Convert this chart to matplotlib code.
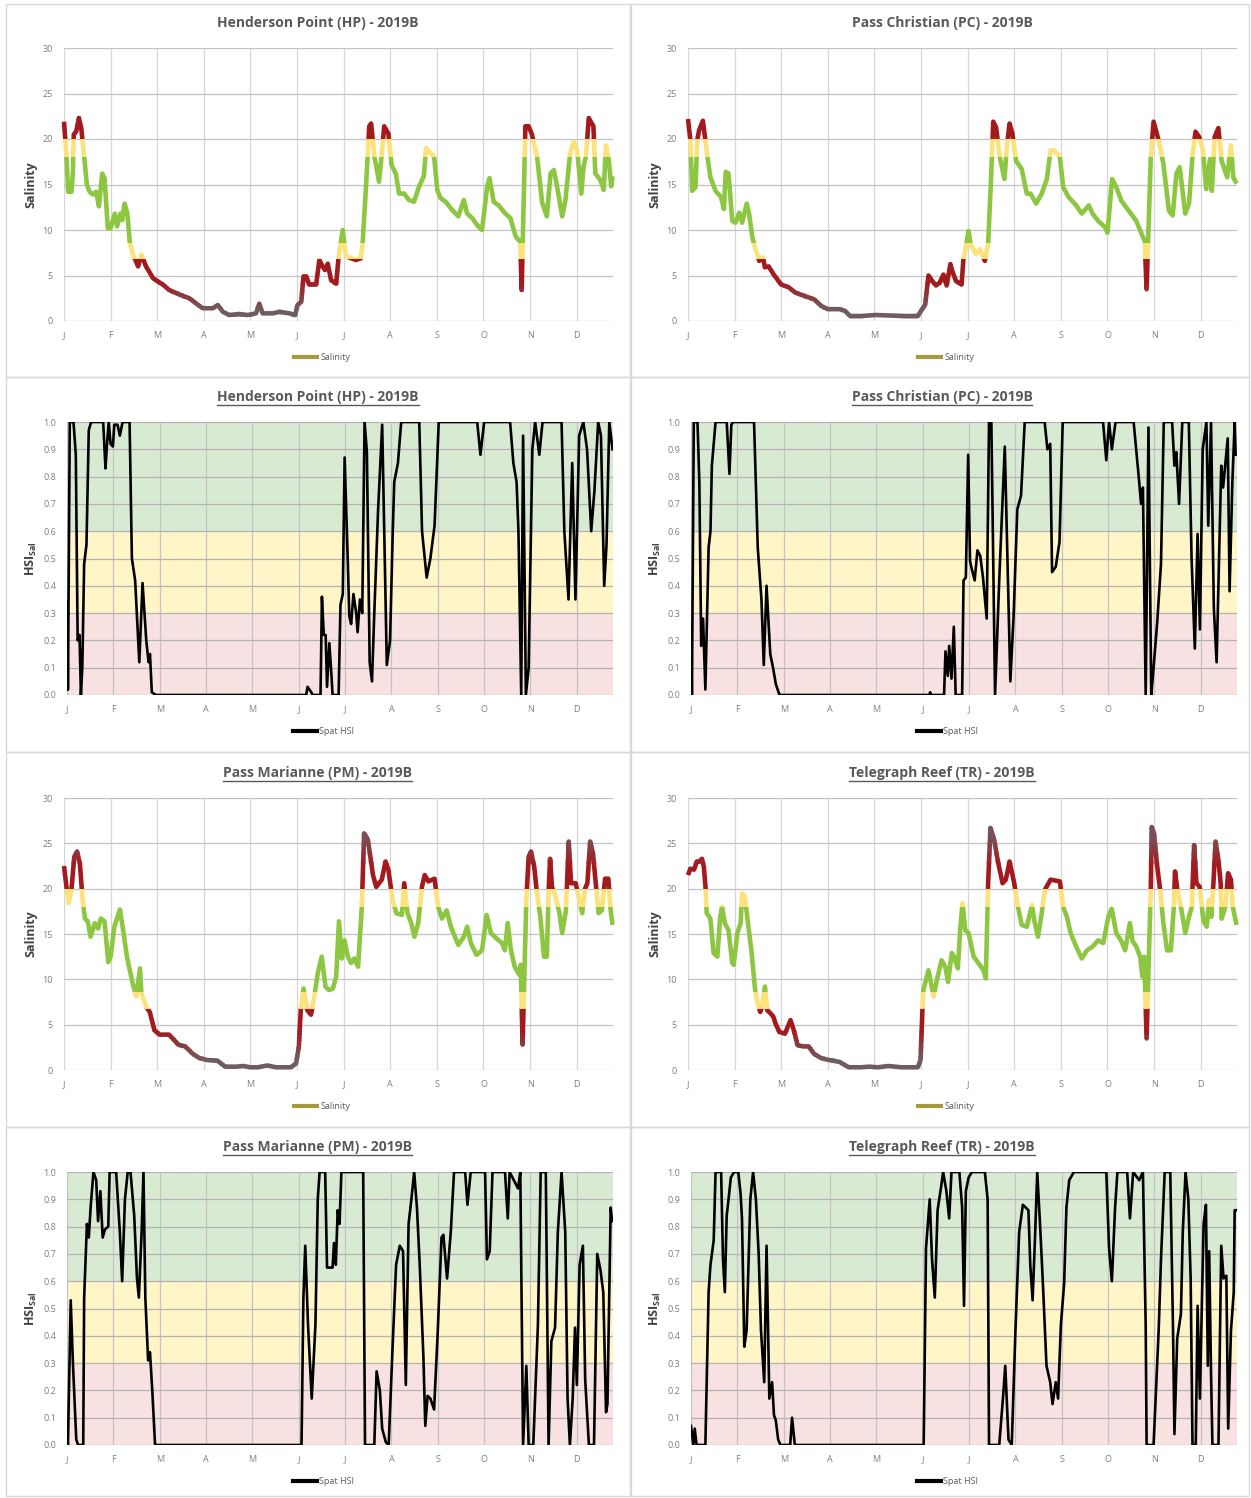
import matplotlib
matplotlib.use('Agg')
import matplotlib.pyplot as plt
import numpy as np
from matplotlib.lines import Line2D
from matplotlib.patches import Rectangle
from matplotlib.colors import to_rgb

plt.rcParams['font.family'] = ['Open Sans', 'DejaVu Sans']
plt.rcParams['mathtext.default'] = 'regular'

# axis labels / ticks
month_labels = ['J', 'F', 'M', 'A', 'M', 'J', 'J', 'A', 'S', 'O', 'N', 'D']
sal_ticks = [0, 5, 10, 15, 20, 25, 30]
hsi_ticks = [0.0, 0.1, 0.2, 0.3, 0.4, 0.5, 0.6, 0.7, 0.8, 0.9, 1.0]

# (month position, value), Jan = 0
hp_sal = [(0, 21.9), (0.05, 18.4), (0.09, 14.2), (0.16, 14.2), (0.19, 16.2), (0.21, 20.5), (0.26, 20.8),
          (0.32, 22.3), (0.37, 21.2), (0.44, 17.7), (0.49, 15.0), (0.55, 14.2), (0.62, 13.9), (0.69, 14.2),
          (0.75, 12.6), (0.82, 16.2), (0.87, 15.7), (0.94, 10.2), (1.0, 10.2), (1.09, 11.8), (1.14, 10.4),
          (1.21, 11.8), (1.25, 11.1), (1.3, 12.9), (1.36, 11.8), (1.41, 8.7), (1.48, 7.3), (1.55, 6.5),
          (1.59, 6.0), (1.66, 7.3), (1.76, 6.0), (1.91, 4.7), (2.12, 4.0), (2.26, 3.4), (2.48, 2.9),
          (2.69, 2.5), (2.84, 1.9), (2.98, 1.4), (3.19, 1.4), (3.3, 1.75), (3.41, 1.0), (3.55, 0.66),
          (3.76, 0.77), (3.94, 0.66), (4.12, 0.84), (4.19, 1.9), (4.26, 0.84), (4.48, 0.84), (4.62, 1.0),
          (4.84, 0.84), (4.96, 0.66), (5.01, 1.75), (5.09, 2.1), (5.14, 4.9), (5.2, 4.9), (5.26, 4.0),
          (5.41, 4.0), (5.48, 6.7), (5.55, 6.0), (5.6, 5.6), (5.66, 6.3), (5.73, 4.5), (5.84, 4.1),
          (5.89, 6.9), (5.98, 10.0), (6.05, 7.1), (6.16, 6.9), (6.26, 6.7), (6.37, 6.9), (6.41, 8.7),
          (6.48, 14.8), (6.55, 21.4), (6.59, 21.7), (6.66, 18.1), (6.76, 15.3), (6.82, 18.4), (6.87, 21.4),
          (6.96, 20.6), (7.03, 17.1), (7.12, 16.2), (7.19, 14.0), (7.3, 14.0), (7.4, 13.3), (7.51, 13.1),
          (7.62, 14.8), (7.72, 15.9), (7.77, 19.0), (7.87, 18.4), (7.94, 18.1), (8.01, 14.4), (8.08, 13.5),
          (8.19, 13.1), (8.33, 12.2), (8.46, 11.5), (8.58, 13.3), (8.65, 11.8), (8.76, 11.3), (8.87, 10.5),
          (8.97, 10.0), (9.08, 14.8), (9.13, 15.7), (9.22, 13.1), (9.33, 12.7), (9.47, 11.8), (9.58, 11.3),
          (9.69, 9.3), (9.79, 8.7), (9.82, 3.4), (9.9, 21.4), (9.97, 21.4), (10.04, 20.5), (10.15, 18.1),
          (10.26, 13.0), (10.36, 11.5), (10.44, 16.2), (10.51, 16.6), (10.58, 14.8), (10.69, 11.5),
          (10.76, 13.3), (10.86, 18.4), (10.94, 19.7), (11.01, 18.8), (11.1, 14.0), (11.15, 17.0),
          (11.2, 18.1), (11.26, 22.3), (11.36, 21.4), (11.4, 16.2), (11.51, 15.5), (11.58, 14.4),
          (11.63, 19.3), (11.69, 17.7), (11.74, 14.8), (11.77, 15.9)]

pc_sal = [(0, 22.2), (0.05, 19.9), (0.09, 14.3), (0.16, 14.7), (0.2, 19.9), (0.24, 21.0), (0.32, 22.0),
          (0.4, 18.7), (0.48, 15.8), (0.59, 14.3), (0.71, 13.6), (0.77, 12.3), (0.81, 16.4), (0.87, 16.2),
          (0.95, 11.0), (1.02, 10.8), (1.1, 11.9), (1.16, 10.8), (1.26, 12.9), (1.31, 11.8), (1.38, 9.2),
          (1.45, 7.9), (1.53, 6.6), (1.61, 7.0), (1.65, 5.9), (1.73, 6.0), (1.84, 5.1), (2.0, 4.0),
          (2.16, 3.7), (2.31, 3.1), (2.47, 2.8), (2.7, 2.4), (2.86, 1.65), (3.0, 1.3), (3.25, 1.3),
          (3.37, 1.1), (3.48, 0.55), (3.72, 0.55), (4.03, 0.66), (4.34, 0.6), (4.66, 0.55), (4.93, 0.55),
          (5.0, 1.1), (5.09, 1.8), (5.16, 5.0), (5.24, 4.4), (5.32, 3.9), (5.4, 4.2), (5.48, 5.1),
          (5.55, 3.9), (5.63, 6.25), (5.67, 5.5), (5.75, 4.4), (5.87, 4.0), (5.91, 6.8), (5.95, 7.7),
          (6.02, 9.9), (6.06, 8.5), (6.18, 7.35), (6.26, 7.9), (6.37, 6.6), (6.44, 8.5), (6.5, 15.4),
          (6.55, 21.9), (6.61, 21.3), (6.69, 18.0), (6.79, 15.6), (6.84, 19.1), (6.9, 21.7), (6.96, 20.6),
          (7.04, 17.6), (7.16, 16.7), (7.27, 14.0), (7.35, 14.0), (7.47, 12.9), (7.59, 14.0), (7.7, 15.6),
          (7.78, 18.75), (7.86, 18.75), (7.98, 18.0), (8.05, 14.7), (8.17, 13.6), (8.33, 12.7), (8.45, 11.8),
          (8.6, 12.7), (8.68, 11.8), (8.8, 11.0), (8.95, 10.3), (9.0, 9.7), (9.1, 15.6), (9.19, 14.7),
          (9.3, 13.2), (9.46, 12.1), (9.62, 11.0), (9.73, 9.6), (9.8, 8.8), (9.84, 3.5), (9.93, 18.0),
          (9.99, 21.9), (10.09, 20.0), (10.2, 17.3), (10.32, 12.1), (10.4, 11.6), (10.48, 16.2),
          (10.55, 16.9), (10.67, 11.8), (10.75, 12.9), (10.83, 18.4), (10.89, 20.8), (10.97, 20.2),
          (11.05, 18.75), (11.12, 14.5), (11.2, 17.8), (11.24, 14.3), (11.3, 20.2), (11.38, 21.2),
          (11.45, 17.6), (11.57, 15.8), (11.65, 19.3), (11.7, 15.8), (11.77, 15.1)]

pm_sal = [(0, 22.5), (0.06, 19.9), (0.1, 18.4), (0.16, 19.9), (0.22, 23.5), (0.28, 24.1), (0.34, 22.8),
          (0.4, 18.75), (0.45, 16.7), (0.51, 16.4), (0.57, 14.7), (0.66, 16.2), (0.73, 15.6), (0.79, 16.7),
          (0.87, 16.4), (0.95, 11.9), (1.0, 12.5), (1.08, 15.8), (1.2, 17.7), (1.27, 15.4), (1.35, 12.5),
          (1.47, 9.6), (1.55, 8.1), (1.63, 11.2), (1.66, 8.5), (1.76, 7.0), (1.84, 6.4), (1.94, 4.4),
          (2.05, 3.9), (2.13, 3.9), (2.25, 3.9), (2.33, 3.5), (2.45, 2.8), (2.6, 2.6), (2.76, 1.8),
          (2.91, 1.3), (3.07, 1.1), (3.3, 1.0), (3.46, 0.37), (3.7, 0.37), (3.85, 0.44), (4.0, 0.3),
          (4.16, 0.3), (4.36, 0.5), (4.55, 0.3), (4.87, 0.3), (4.98, 0.74), (5.04, 2.6), (5.08, 6.6),
          (5.14, 9.0), (5.22, 6.6), (5.3, 6.1), (5.37, 8.1), (5.45, 10.8), (5.53, 12.5), (5.61, 9.2),
          (5.69, 8.8), (5.77, 9.0), (5.84, 10.3), (5.9, 16.4), (5.96, 12.3), (6.02, 14.3), (6.09, 12.5),
          (6.16, 11.8), (6.23, 12.3), (6.31, 11.4), (6.39, 18.0), (6.44, 26.1), (6.52, 25.4), (6.63, 21.5),
          (6.7, 20.2), (6.82, 21.0), (6.9, 23.0), (6.96, 22.1), (7.05, 18.75), (7.13, 17.3), (7.25, 17.1),
          (7.3, 20.6), (7.37, 17.3), (7.45, 16.2), (7.52, 14.7), (7.6, 16.2), (7.68, 20.2), (7.74, 21.5),
          (7.82, 20.8), (7.95, 21.1), (8.03, 18.0), (8.11, 16.7), (8.21, 17.6), (8.3, 15.8), (8.46, 13.8),
          (8.58, 14.7), (8.65, 15.8), (8.73, 14.0), (8.85, 12.7), (8.97, 13.2), (9.07, 17.1), (9.16, 15.1),
          (9.28, 14.5), (9.4, 14.0), (9.46, 13.2), (9.52, 16.2), (9.59, 13.2), (9.67, 11.4), (9.77, 10.5),
          (9.8, 11.6), (9.84, 2.8), (9.92, 18.75), (9.97, 23.5), (10.02, 24.1), (10.09, 22.4), (10.14, 19.9),
          (10.22, 16.9), (10.3, 12.5), (10.36, 12.5), (10.4, 19.9), (10.43, 23.3), (10.47, 20.2),
          (10.55, 19.1), (10.63, 17.3), (10.69, 15.1), (10.77, 17.6), (10.83, 25.2), (10.88, 20.6),
          (10.98, 20.6), (11.04, 19.1), (11.12, 17.3), (11.18, 20.0), (11.23, 20.6), (11.29, 25.2),
          (11.35, 23.9), (11.41, 20.6), (11.47, 17.3), (11.54, 17.6), (11.61, 21.1), (11.68, 21.1),
          (11.73, 17.6), (11.77, 16.0)]

tr_sal = [(0, 21.5), (0.05, 22.2), (0.13, 22.1), (0.19, 23.0), (0.24, 23.0), (0.3, 23.3), (0.34, 22.4),
          (0.38, 19.9), (0.4, 17.3), (0.48, 16.7), (0.55, 12.9), (0.63, 12.5), (0.69, 16.9), (0.73, 18.0),
          (0.79, 16.2), (0.87, 15.4), (0.95, 11.8), (0.98, 11.6), (1.06, 15.1), (1.13, 16.2), (1.16, 19.5),
          (1.22, 19.1), (1.28, 16.5), (1.36, 13.2), (1.44, 8.8), (1.49, 7.5), (1.55, 6.4), (1.59, 7.0),
          (1.65, 9.2), (1.7, 6.6), (1.77, 6.25), (1.83, 5.9), (1.88, 5.1), (1.96, 4.2), (2.08, 4.0),
          (2.2, 5.5), (2.27, 4.4), (2.35, 2.75), (2.47, 2.6), (2.59, 2.6), (2.7, 1.8), (2.86, 1.3),
          (3.02, 1.1), (3.25, 0.9), (3.45, 0.3), (3.72, 0.3), (3.88, 0.37), (4.07, 0.3), (4.3, 0.44),
          (4.58, 0.3), (4.93, 0.3), (4.99, 1.1), (5.03, 6.6), (5.05, 8.8), (5.16, 11.0), (5.27, 8.1),
          (5.34, 9.9), (5.44, 12.1), (5.52, 11.4), (5.58, 9.7), (5.66, 12.9), (5.71, 12.5), (5.79, 11.2),
          (5.84, 15.4), (5.89, 18.4), (5.95, 15.4), (6.02, 15.1), (6.13, 12.5), (6.23, 11.8), (6.34, 11.0),
          (6.39, 10.1), (6.44, 20.6), (6.49, 26.7), (6.57, 25.4), (6.65, 23.0), (6.75, 20.6), (6.82, 21.0),
          (6.9, 23.0), (7.0, 20.6), (7.08, 18.0), (7.16, 16.0), (7.27, 15.8), (7.38, 18.2), (7.43, 16.5),
          (7.51, 14.7), (7.59, 17.3), (7.66, 19.9), (7.78, 21.0), (7.98, 20.8), (8.05, 18.0), (8.13, 16.9),
          (8.21, 15.1), (8.33, 13.6), (8.45, 12.3), (8.56, 13.2), (8.68, 13.6), (8.8, 14.3), (8.91, 14.0),
          (9.02, 16.9), (9.09, 17.8), (9.19, 15.1), (9.3, 14.2), (9.38, 13.2), (9.48, 16.2), (9.54, 14.2),
          (9.62, 13.6), (9.7, 12.5), (9.75, 10.3), (9.79, 12.5), (9.84, 3.5), (9.93, 19.9), (9.95, 26.8),
          (10.0, 26.1), (10.06, 22.8), (10.13, 19.9), (10.2, 16.2), (10.28, 13.2), (10.36, 13.2),
          (10.42, 17.6), (10.45, 21.9), (10.5, 19.9), (10.59, 17.6), (10.67, 15.1), (10.75, 16.9),
          (10.81, 18.0), (10.86, 24.8), (10.91, 20.6), (10.98, 20.2), (11.06, 16.4), (11.13, 15.8),
          (11.18, 18.75), (11.23, 16.9), (11.27, 20.2), (11.32, 25.2), (11.38, 23.2), (11.43, 20.6),
          (11.45, 16.7), (11.53, 18.0), (11.59, 21.7), (11.65, 21.0), (11.69, 18.0), (11.77, 16.0)]

hp_hsi = [(0, 0.02), (0.01, 0.34), (0.02, 0.02), (0.06, 1.0), (0.14, 1.0), (0.19, 0.88), (0.23, 0.2),
          (0.27, 0.22), (0.3, 0.0), (0.33, 0.1), (0.37, 0.48), (0.42, 0.55), (0.47, 0.97), (0.52, 1.0),
          (0.78, 1.0), (0.83, 0.83), (0.86, 0.91), (0.9, 1.0), (0.94, 0.92), (0.99, 0.91), (1.02, 0.99),
          (1.09, 0.99), (1.14, 0.95), (1.2, 1.0), (1.35, 1.0), (1.4, 0.5), (1.47, 0.42), (1.56, 0.12),
          (1.63, 0.41), (1.71, 0.2), (1.76, 0.12), (1.79, 0.15), (1.83, 0.01), (1.92, 0.0), (5.16, 0.0),
          (5.19, 0.03), (5.27, 0.01), (5.3, 0.0), (5.47, 0.0), (5.5, 0.36), (5.54, 0.22), (5.58, 0.22),
          (5.61, 0.03), (5.66, 0.19), (5.71, 0.06), (5.73, 0.0), (5.86, 0.0), (5.9, 0.33), (5.95, 0.37),
          (5.99, 0.87), (6.06, 0.48), (6.09, 0.29), (6.13, 0.26), (6.18, 0.37), (6.24, 0.3), (6.27, 0.23),
          (6.32, 0.35), (6.37, 0.3), (6.42, 1.0), (6.47, 0.89), (6.53, 0.12), (6.58, 0.05), (6.63, 0.3),
          (6.71, 0.67), (6.8, 0.99), (6.85, 0.55), (6.9, 0.11), (6.97, 0.2), (7.03, 0.61), (7.06, 0.78),
          (7.14, 0.85), (7.21, 1.0), (7.6, 1.0), (7.66, 0.6), (7.76, 0.43), (7.84, 0.5), (7.93, 0.62),
          (8.02, 1.0), (8.85, 1.0), (8.92, 0.88), (9.0, 1.0), (9.56, 1.0), (9.63, 0.85), (9.7, 0.78),
          (9.74, 0.6), (9.8, 0.0), (9.84, 0.95), (9.9, 0.0), (9.96, 0.1), (10.04, 0.9), (10.1, 1.0),
          (10.19, 0.88), (10.26, 1.0), (10.67, 1.0), (10.73, 0.6), (10.82, 0.35), (10.9, 0.85),
          (10.97, 0.35), (11.05, 0.95), (11.14, 1.0), (11.22, 0.9), (11.31, 0.6), (11.38, 0.75),
          (11.46, 1.0), (11.52, 0.95), (11.59, 0.4), (11.64, 0.55), (11.7, 1.0), (11.77, 0.9)]

pc_hsi = [(0, 0.26), (0.02, 0.0), (0.06, 1.0), (0.14, 1.0), (0.18, 0.78), (0.22, 0.18), (0.26, 0.28),
          (0.31, 0.02), (0.38, 0.54), (0.42, 0.6), (0.45, 0.84), (0.53, 1.0), (0.77, 1.0), (0.83, 0.81),
          (0.87, 0.99), (0.91, 1.0), (1.36, 1.0), (1.44, 0.54), (1.52, 0.35), (1.57, 0.11), (1.63, 0.4),
          (1.71, 0.15), (1.77, 0.1), (1.83, 0.04), (1.91, 0.0), (5.14, 0.0), (5.16, 0.01), (5.18, 0.0),
          (5.46, 0.0), (5.49, 0.16), (5.54, 0.07), (5.57, 0.18), (5.62, 0.06), (5.67, 0.25), (5.71, 0.0),
          (5.85, 0.0), (5.88, 0.42), (5.93, 0.43), (5.98, 0.88), (6.02, 0.49), (6.06, 0.46), (6.12, 0.42),
          (6.18, 0.53), (6.24, 0.51), (6.3, 0.43), (6.38, 0.28), (6.43, 1.0), (6.48, 1.0), (6.56, 0.0),
          (6.65, 0.42), (6.77, 0.91), (6.89, 0.05), (6.96, 0.29), (7.04, 0.68), (7.12, 0.73), (7.2, 1.0),
          (7.63, 1.0), (7.69, 0.9), (7.75, 0.92), (7.79, 0.45), (7.87, 0.47), (7.95, 0.56), (8.02, 1.0),
          (8.89, 1.0), (8.96, 0.86), (9.02, 1.0), (9.08, 0.9), (9.16, 1.0), (9.55, 1.0), (9.67, 0.78),
          (9.71, 0.7), (9.75, 0.76), (9.81, 0.0), (9.87, 0.98), (9.93, 0.0), (9.98, 0.1), (10.06, 0.27),
          (10.14, 0.48), (10.2, 1.0), (10.38, 1.0), (10.43, 0.84), (10.47, 0.89), (10.53, 0.7), (10.6, 1.0),
          (10.74, 1.0), (10.8, 0.5), (10.87, 0.17), (10.93, 0.59), (10.98, 0.24), (11.04, 0.9), (11.12, 1.0),
          (11.16, 0.62), (11.22, 1.0), (11.28, 0.32), (11.34, 0.12), (11.44, 0.84), (11.48, 0.76),
          (11.58, 0.94), (11.62, 0.38), (11.68, 0.78), (11.73, 1.0), (11.75, 0.88)]

pm_hsi = [(0, 0.05), (0.02, 0.0), (0.08, 0.53), (0.13, 0.29), (0.2, 0.02), (0.24, 0.0), (0.35, 0.0),
          (0.37, 0.54), (0.43, 0.81), (0.47, 0.76), (0.51, 0.87), (0.57, 1.0), (0.63, 0.97), (0.67, 0.82),
          (0.72, 0.93), (0.77, 0.76), (0.82, 0.79), (0.89, 0.8), (0.92, 1.0), (1.06, 1.0), (1.14, 0.78),
          (1.19, 0.6), (1.25, 0.9), (1.31, 1.0), (1.37, 1.0), (1.45, 0.84), (1.51, 0.61), (1.55, 0.54),
          (1.61, 0.78), (1.65, 1.0), (1.69, 0.54), (1.75, 0.31), (1.79, 0.34), (1.84, 0.2), (1.9, 0.0),
          (5.06, 0.0), (5.1, 0.54), (5.14, 0.73), (5.2, 0.44), (5.28, 0.17), (5.36, 0.44), (5.41, 0.9),
          (5.45, 1.0), (5.57, 1.0), (5.61, 0.65), (5.73, 0.65), (5.76, 0.74), (5.8, 0.66), (5.84, 0.86),
          (5.88, 0.81), (5.92, 1.0), (6.39, 1.0), (6.43, 0.0), (6.63, 0.0), (6.68, 0.27), (6.75, 0.2),
          (6.8, 0.06), (6.88, 0.01), (6.94, 0.0), (7.02, 0.34), (7.1, 0.66), (7.18, 0.73), (7.25, 0.71),
          (7.31, 0.22), (7.37, 0.81), (7.43, 0.9), (7.49, 1.0), (7.55, 0.87), (7.61, 0.66), (7.69, 0.32),
          (7.73, 0.07), (7.78, 0.18), (7.84, 0.17), (7.92, 0.13), (8.0, 0.42), (8.08, 0.76), (8.12, 0.77),
          (8.2, 0.61), (8.28, 0.78), (8.35, 1.0), (8.59, 1.0), (8.64, 0.88), (8.71, 1.0), (9.02, 1.0),
          (9.06, 0.68), (9.12, 0.71), (9.18, 1.0), (9.45, 1.0), (9.51, 0.83), (9.55, 1.0), (9.73, 0.94),
          (9.78, 1.0), (9.84, 0.0), (9.91, 0.29), (9.96, 0.0), (10.06, 0.0), (10.16, 0.44), (10.22, 1.0),
          (10.33, 1.0), (10.39, 0.0), (10.45, 0.38), (10.53, 0.43), (10.59, 0.78), (10.67, 1.0),
          (10.75, 0.78), (10.8, 0.17), (10.85, 0.0), (10.91, 0.17), (10.96, 0.43), (11.0, 0.22),
          (11.06, 0.66), (11.13, 0.73), (11.18, 0.24), (11.26, 0.0), (11.37, 0.0), (11.44, 0.7),
          (11.51, 0.64), (11.57, 0.56), (11.63, 0.12), (11.66, 0.15), (11.73, 0.87), (11.76, 0.82)]

tr_hsi = [(0, 0.07), (0.05, 0.0), (0.08, 0.06), (0.12, 0.0), (0.31, 0.0), (0.38, 0.56), (0.42, 0.66),
          (0.49, 0.75), (0.53, 1.0), (0.65, 1.0), (0.69, 0.68), (0.73, 0.56), (0.77, 0.84), (0.81, 0.9),
          (0.86, 0.98), (0.93, 1.0), (1.02, 1.0), (1.07, 0.92), (1.1, 0.83), (1.15, 0.36), (1.2, 0.42),
          (1.28, 0.9), (1.34, 1.0), (1.4, 0.9), (1.46, 0.7), (1.51, 0.42), (1.58, 0.23), (1.63, 0.73),
          (1.69, 0.17), (1.75, 0.23), (1.79, 0.11), (1.83, 0.09), (1.88, 0.02), (1.93, 0.0), (2.14, 0.0),
          (2.18, 0.1), (2.24, 0.0), (5.02, 0.0), (5.07, 0.72), (5.15, 0.9), (5.2, 0.68), (5.26, 0.54),
          (5.32, 0.86), (5.4, 0.95), (5.44, 1.0), (5.51, 0.93), (5.57, 0.83), (5.62, 1.0), (5.79, 1.0),
          (5.85, 0.87), (5.89, 0.51), (5.93, 0.93), (5.99, 0.98), (6.06, 1.0), (6.34, 1.0), (6.4, 0.9),
          (6.43, 0.0), (6.65, 0.0), (6.73, 0.17), (6.78, 0.29), (6.85, 0.02), (6.92, 0.0), (7.0, 0.42),
          (7.08, 0.78), (7.16, 0.88), (7.28, 0.86), (7.32, 0.66), (7.37, 0.53), (7.42, 0.75), (7.47, 1.0),
          (7.53, 0.81), (7.59, 0.6), (7.67, 0.29), (7.75, 0.23), (7.8, 0.15), (7.87, 0.23), (7.92, 0.17),
          (7.98, 0.44), (8.05, 0.59), (8.1, 0.87), (8.16, 0.97), (8.26, 1.0), (8.96, 1.0), (9.02, 0.72),
          (9.08, 0.6), (9.15, 0.87), (9.2, 1.0), (9.41, 1.0), (9.47, 0.83), (9.54, 1.0), (9.67, 0.97),
          (9.75, 1.0), (9.81, 0.44), (9.83, 0.0), (9.98, 0.0), (10.09, 0.42), (10.14, 0.68), (10.22, 1.0),
          (10.34, 1.0), (10.4, 0.42), (10.43, 0.04), (10.49, 0.39), (10.57, 0.48), (10.61, 0.78),
          (10.67, 1.0), (10.73, 0.9), (10.78, 0.61), (10.82, 0.0), (10.89, 0.0), (10.93, 0.51),
          (10.98, 0.17), (11.02, 0.5), (11.06, 0.81), (11.11, 0.88), (11.15, 0.29), (11.18, 0.71),
          (11.22, 0.26), (11.25, 0.0), (11.38, 0.0), (11.44, 0.73), (11.49, 0.61), (11.55, 0.62),
          (11.59, 0.06), (11.65, 0.42), (11.71, 0.56), (11.73, 0.86), (11.76, 0.86)]

# figure in pixel terms
W, H = 1251, 1498
fig = plt.figure(figsize=(W / 100, H / 100), dpi=100)
fig.patch.set_facecolor('white')

title_col = '#595959'
tick_col = '#7f7f7f'


def px_axes(l, t, r, b):
    return fig.add_axes([l / W, 1 - b / H, (r - l) / W, (b - t) / H])


def fx(x):
    return x / W


def fy(y):
    return 1 - y / H


# colour bands for the salinity line (sharp steps + a fade at both ends)
red = '#a31a1e'
yellow = '#fbe27a'
green = '#8dc641'
dull_low = '#6f5c61'
dull_high = '#7a5056'


def mix(c1, c2, t):
    a, b = np.array(to_rgb(c1)), np.array(to_rgb(c2))
    return tuple(a + (b - a) * t)


sal_bands = []
for lo in np.arange(0, 4.5, 0.25):
    sal_bands.append((lo, lo + 0.25, mix(dull_low, red, min(1, max(0, (lo - 1.0) / 3.2)))))
sal_bands += [(4.5, 6.8, red), (6.8, 8.6, yellow), (8.6, 18, green), (18, 20, yellow), (20, 22.5, red)]
for lo in np.arange(22.5, 30, 0.25):
    sal_bands.append((lo, lo + 0.25, mix(red, dull_high, min(1, (lo - 22.5) / 3.0))))


def style_axes(ax, ticks, fmt, hcol, vcol):
    ax.set_xlim(0, 11.78)
    ax.set_ylim(ticks[0], ticks[-1])
    ax.set_xticks(range(12))
    ax.set_xticklabels(month_labels)
    ax.set_yticks(ticks)
    ax.set_yticklabels([fmt.format(t) for t in ticks])
    ax.tick_params(length=0, labelsize=6.5, labelcolor=tick_col)
    ax.tick_params(axis='x', pad=7)
    ax.tick_params(axis='y', pad=8)
    for s in ax.spines.values():
        s.set_visible(False)
    ax.grid(True, axis='y', color=hcol, lw=0.9)
    ax.grid(True, axis='x', color=vcol, lw=0.9)
    ax.set_axisbelow(True)


def add_legend(ax, color, label):
    ax.legend(handles=[Line2D([], [], color=color, lw=3.0)], labels=[label],
              loc='center', bbox_to_anchor=(0.47, -0.135), frameon=False, fontsize=6.5,
              handlelength=2.6, handletextpad=0.3, labelcolor='#595959')


def sal_panel(rect, data):
    ax = px_axes(*rect)
    style_axes(ax, sal_ticks, '{:d}', '#c2c2c2', '#d6d6d6')
    xs = [p[0] for p in data]
    ys = [p[1] for p in data]
    for lo, hi, c in sal_bands:
        ln, = ax.plot(xs, ys, color=c, lw=3.3, solid_joinstyle='round', solid_capstyle='butt', zorder=3)
        ln.set_clip_path(Rectangle((-1, lo - 0.03), 20, hi - lo + 0.06, transform=ax.transData))
    add_legend(ax, '#a59b3e', 'Salinity')
    return ax


def hsi_panel(rect, data):
    ax = px_axes(*rect)
    style_axes(ax, hsi_ticks, '{:.1f}', '#b3b3b3', '#c4c4c4')
    ax.axhspan(0, 0.3, color='#f7e1e1', lw=0, zorder=0)
    ax.axhspan(0.3, 0.6, color='#fff5c7', lw=0, zorder=0)
    ax.axhspan(0.6, 1.0, color='#d9ead3', lw=0, zorder=0)
    xs = [p[0] for p in data]
    ys = [p[1] for p in data]
    ax.plot(xs, ys, color='black', lw=1.9, solid_joinstyle='round', zorder=3)
    add_legend(ax, 'black', 'Spat HSI')
    return ax


# panel frames
row_edges = [4, 377, 752, 1127, 1496]
for r in range(4):
    for (l, rr) in [(6, 630), (631, 1249)]:
        fig.add_artist(Rectangle((fx(l), fy(row_edges[r + 1])), (rr - l) / W,
                                 (row_edges[r + 1] - row_edges[r]) / H, transform=fig.transFigure,
                                 fill=False, ec='#d9d9d9', lw=1.0))

panels = [
    ('sal', (64, 48, 613, 321), hp_sal, 'Henderson Point (HP) - 2019B', False),
    ('sal', (688, 48, 1237, 321), pc_sal, 'Pass Christian (PC) - 2019B', False),
    ('hsi', (67, 422, 613, 695), hp_hsi, 'Henderson Point (HP) - 2019B', True),
    ('hsi', (691, 422, 1237, 695), pc_hsi, 'Pass Christian (PC) - 2019B', True),
    ('sal', (64, 798, 613, 1070), pm_sal, 'Pass Marianne (PM) - 2019B', True),
    ('sal', (688, 798, 1237, 1070), tr_sal, 'Telegraph Reef (TR) - 2019B', True),
    ('hsi', (67, 1172, 613, 1445), pm_hsi, 'Pass Marianne (PM) - 2019B', True),
    ('hsi', (691, 1172, 1237, 1445), tr_hsi, 'Telegraph Reef (TR) - 2019B', True),
]

titles = []
for kind, rect, data, title, underline in panels:
    if kind == 'sal':
        ax = sal_panel(rect, data)
        ylab = 'Salinity'
    else:
        ax = hsi_panel(rect, data)
        ylab = 'HSI$_{Sal}$'
    left_side = rect[0] < 400
    cx = 318 if left_side else 942
    t = fig.text(fx(cx), fy(rect[1] - 25), title, ha='center', va='center', fontsize=10,
                 fontweight='bold', color=title_col)
    titles.append((t, underline))
    lx = 31 if left_side else 655
    fig.text(fx(lx), fy((rect[1] + rect[3]) / 2), ylab, rotation=90, ha='center', va='center',
             fontsize=9, fontweight='bold', color='#404040')

# underline titles
fig.canvas.draw()
rend = fig.canvas.get_renderer()
for t, underline in titles:
    if not underline:
        continue
    bb = t.get_window_extent(renderer=rend)
    y = (bb.y0 - 1) / fig.bbox.height
    fig.add_artist(Line2D([bb.x0 / fig.bbox.width, bb.x1 / fig.bbox.width], [y, y],
                          transform=fig.transFigure, color=title_col, lw=1.0))

fig.savefig('out.png', dpi=100, facecolor='white')
